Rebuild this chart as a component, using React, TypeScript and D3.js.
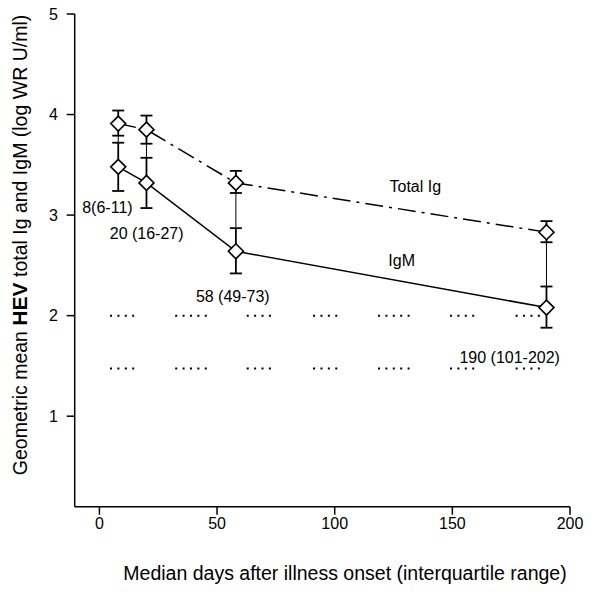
import * as d3 from "d3";

const WIDTH = 602;
const HEIGHT = 606;

// median days after onset
const days = [8, 20, 58, 190];

// log WR U/ml, geometric means and error bar ends
const totalIg = [3.91, 3.85, 3.32, 2.83];
const totalIgHi = [4.04, 3.99, 3.44, 2.94];
const totalIgLo = [3.79, 3.71, 3.22, 2.73];

const igm = [3.48, 3.32, 2.64, 2.08];
const igmHi = [3.72, 3.57, 2.87, 2.29];
const igmLo = [3.24, 3.07, 2.42, 1.88];

const xTicks = [0, 50, 100, 150, 200];
const yTicks = [1, 2, 3, 4, 5];

// dotted reference rows: level, group starts (days) and dot counts
const dotLevels = [2.0, 1.475];
const dotStarts = [4.5, 32.2, 62.6, 90.8, 118.4, 149, 176.9];
const dotCounts = [4, 5, 4, 4, 5, 4, 4];

// text labels anchored in data space (day, value)
const labelTexts = ["8(6-11)", "20 (16-27)", "58 (49-73)", "190 (101-202)", "Total Ig", "IgM"];
const labelDays = [-7.3, 4.4, 41, 153, 123.3, 122.8];
const labelValues = [3.02, 2.76, 2.14, 1.53, 3.23, 2.49];

const FONT = "'Liberation Sans', Arial, sans-serif";

export default function App() {
  const x = d3.scaleLinear().domain([-10.5, 200]).range([74.7, 570]);
  const y = d3.scaleLinear().domain([0.1, 5]).range([506.7, 14]);

  const lineGen = d3
    .line<number>()
    .x((_, i) => x(days[i]))
    .y((d) => y(d));

  const diamond = (cx: number, cy: number, r = 7.5) =>
    `M${cx},${cy - r}L${cx + r},${cy}L${cx},${cy + r}L${cx - r},${cy}Z`;

  const capW = 6;

  return (
    <svg width={WIDTH} height={HEIGHT} style={{ display: "block", position: "absolute", left: 0, top: 0 }}>
      <rect width={WIDTH} height={HEIGHT} fill="#fff" />

      {/* axes */}
      <g stroke="#000" strokeWidth={1.5} fill="none">
        <line x1={x.range()[0]} x2={x.range()[0]} y1={y.range()[1]} y2={y.range()[0]} />
        <line x1={x.range()[0]} x2={x.range()[1]} y1={y.range()[0]} y2={y.range()[0]} />
        {yTicks.map((t) => (
          <line key={`yt${t}`} x1={x.range()[0] - 8} x2={x.range()[0]} y1={y(t)} y2={y(t)} />
        ))}
        {xTicks.map((t) => (
          <line key={`xt${t}`} x1={x(t)} x2={x(t)} y1={y.range()[0]} y2={y.range()[0] + 8} />
        ))}
      </g>
      <g fontFamily={FONT} fontSize={16} fill="#000">
        {yTicks.map((t) => (
          <text key={`yl${t}`} x={58} y={y(t)} dy="0.35em" textAnchor="end">
            {t}
          </text>
        ))}
        {xTicks.map((t) => (
          <text key={`xl${t}`} x={x(t)} y={529} textAnchor="middle">
            {t}
          </text>
        ))}
      </g>

      {/* axis titles */}
      <text x={345} y={580} fontFamily={FONT} fontSize={19.5} textAnchor="middle">
        Median days after illness onset (interquartile range)
      </text>
      <text
        transform={`translate(27,245) rotate(-90)`}
        fontFamily={FONT}
        fontSize={19.5}
        textAnchor="middle"
      >
        Geometric mean <tspan fontWeight="bold" fontSize={21}>HEV</tspan> total Ig and IgM (log WR U/ml)
      </text>

      {/* dotted rows */}
      <g stroke="#000" strokeWidth={2} strokeDasharray="2,5.4">
        {dotLevels.map((lv) =>
          dotStarts.map((s, i) => (
            <line
              key={`d${lv}-${s}`}
              x1={x(s)}
              x2={x(s) + (dotCounts[i] - 1) * 7.4 + 2}
              y1={y(lv)}
              y2={y(lv)}
            />
          ))
        )}
      </g>

      {/* thin connectors between Total Ig lower and IgM upper */}
      <g stroke="#000" strokeWidth={1}>
        {days.map((d, i) => (
          <line key={`c${d}`} x1={x(d)} x2={x(d)} y1={y(totalIgLo[i])} y2={y(igmHi[i])} />
        ))}
      </g>

      {/* error bars */}
      <g stroke="#000" strokeWidth={1.8}>
        {[
          [totalIgHi, totalIgLo],
          [igmHi, igmLo],
        ].map(([hi, lo], s) =>
          days.map((d, i) => (
            <g key={`e${s}-${d}`}>
              <line x1={x(d)} x2={x(d)} y1={y(hi[i])} y2={y(lo[i])} />
              <line x1={x(d) - capW} x2={x(d) + capW} y1={y(hi[i])} y2={y(hi[i])} />
              <line x1={x(d) - capW} x2={x(d) + capW} y1={y(lo[i])} y2={y(lo[i])} />
            </g>
          ))
        )}
      </g>

      {/* series lines */}
      <path d={lineGen(totalIg) ?? ""} fill="none" stroke="#000" strokeWidth={1.5} strokeDasharray="18,6,3,6" />
      <path d={lineGen(igm) ?? ""} fill="none" stroke="#000" strokeWidth={1.5} />

      {/* markers */}
      <g fill="#fff" stroke="#000" strokeWidth={1.6}>
        {[totalIg, igm].map((vals, s) =>
          vals.map((v, i) => <path key={`m${s}-${i}`} d={diamond(x(days[i]), y(v))} />)
        )}
      </g>

      {/* labels */}
      <g fontFamily={FONT} fontSize={16} fill="#000">
        {labelTexts.map((t, i) => (
          <text key={t} x={x(labelDays[i])} y={y(labelValues[i])}>
            {t}
          </text>
        ))}
      </g>
    </svg>
  );
}
